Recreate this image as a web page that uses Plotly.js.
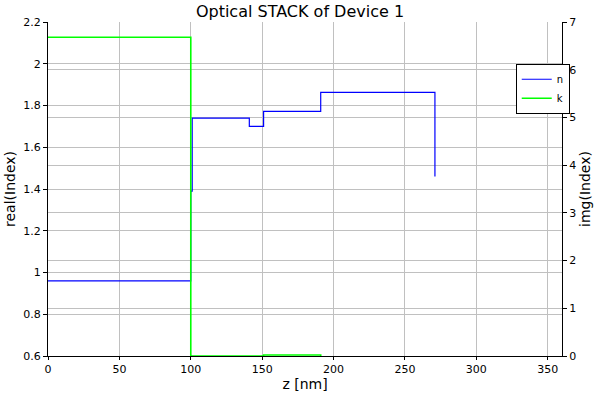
<!DOCTYPE html>
<html>
<head>
<meta charset="utf-8">
<script src="https://cdn.plot.ly/plotly-3.0.1.min.js"></script>
<style>html,body{margin:0;padding:0;background:#fff;}#chart{width:600px;height:400px;}</style>
</head>
<body>
<div id="chart"></div>
<script>
// Layer boundaries (z in nm) and indices
var zN = [0, 100, 101, 141, 151, 191, 271];
var nVals = [0.96, 1.39, 1.74, 1.70, 1.772, 1.863, 1.46];
var zK = [0, 100, 151, 191];
var kVals = [6.68, 0, 0.02, 0];

var font = "DejaVu Sans, Liberation Sans, sans-serif";

var traces = [
  {x: zN, y: nVals, type: 'scatter', mode: 'lines', name: 'n',
   line: {shape: 'hv', color: '#0000ff', width: 1.2}, yaxis: 'y'},
  {x: zK, y: kVals, type: 'scatter', mode: 'lines', name: 'k',
   line: {shape: 'hv', color: '#00ff00', width: 1.6}, yaxis: 'y2'}
];

var layout = {
  width: 600, height: 400,
  margin: {l: 48, r: 38, t: 22, b: 44},
  paper_bgcolor: '#fff', plot_bgcolor: '#fff',
  font: {family: font, size: 11, color: '#000'},
  title: {text: 'Optical STACK of Device 1', font: {family: font, size: 16, color: '#000'},
          x: 0.5, xanchor: 'center', y: 0.985, yanchor: 'top'},
  showlegend: true,
  legend: {x: 0.91, xanchor: 'left', y: 0.875, yanchor: 'top',
           bordercolor: '#000', borderwidth: 1, bgcolor: '#fff',
           font: {family: font, size: 10, color: '#000'}, itemwidth: 30,
           tracegroupgap: 0},
  xaxis: {
    range: [0, 360], dtick: 50, tick0: 0, showgrid: true, gridcolor: '#c0c0c0', gridwidth: 1,
    zeroline: false, showline: true, linecolor: '#000', linewidth: 1,
    ticks: 'outside', ticklen: 3, tickcolor: '#000',
    title: {text: 'z [nm]', font: {family: font, size: 14, color: '#000'}, standoff: 2},
    tickfont: {family: font, size: 11}
  },
  yaxis: {
    range: [0.6, 2.2], dtick: 0.2, tick0: 0.6, showgrid: true, gridcolor: '#c0c0c0', gridwidth: 1,
    zeroline: false, showline: true, linecolor: '#000', linewidth: 1,
    ticks: 'outside', ticklen: 4, tickcolor: '#000',
    title: {text: 'real(Index)', font: {family: font, size: 14, color: '#000'}, standoff: 4},
    tickfont: {family: font, size: 11}
  },
  yaxis2: {
    range: [0, 7], dtick: 1, tick0: 0, overlaying: 'y', side: 'right',
    showgrid: true, gridcolor: '#c0c0c0', gridwidth: 1,
    zeroline: false, showline: true, linecolor: '#000', linewidth: 1,
    ticks: 'outside', ticklen: 4, tickcolor: '#000',
    title: {text: 'img(Index)', font: {family: font, size: 14, color: '#000'}, standoff: 4},
    tickfont: {family: font, size: 11}
  }
};

Plotly.newPlot('chart', traces, layout, {displayModeBar: false, staticPlot: true});
</script>
</body>
</html>
